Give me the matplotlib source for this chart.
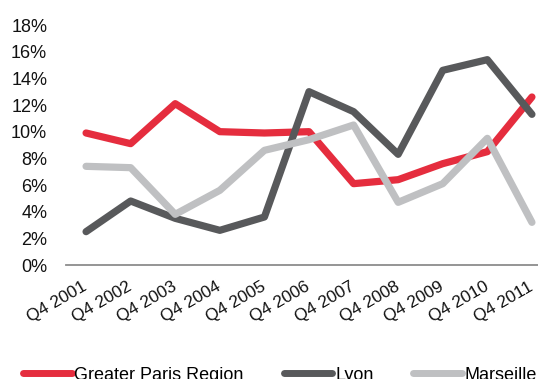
import matplotlib
matplotlib.use("Agg")
import matplotlib.pyplot as plt
from matplotlib.ticker import FuncFormatter
from matplotlib.legend_handler import HandlerLine2D

plt.rcParams['font.family'] = ['Liberation Sans', 'DejaVu Sans']

quarters = ["Q4 2001", "Q4 2002", "Q4 2003", "Q4 2004", "Q4 2005", "Q4 2006",
            "Q4 2007", "Q4 2008", "Q4 2009", "Q4 2010", "Q4 2011"]
paris = [9.9, 9.1, 12.1, 10.0, 9.9, 10.0, 6.1, 6.4, 7.6, 8.5, 12.6]
lyon = [2.5, 4.8, 3.5, 2.6, 3.6, 13.0, 11.5, 8.3, 14.6, 15.4, 11.3]
marseille = [7.4, 7.3, 3.8, 5.6, 8.6, 9.4, 10.5, 4.7, 6.1, 9.5, 3.2]

series_names = ["Greater Paris Region", "Lyon", "Marseille"]
colors = ["#E52D3E", "#58595B", "#BFC0C2"]

W, H = 538, 379
fig = plt.figure(figsize=(W / 100, H / 100), dpi=100)
# plot area runs past the right edge of the figure
ax = fig.add_axes([66 / W, (H - 265) / H, (552 - 66) / W, (265 - 25) / H])

x = list(range(len(quarters)))
for vals, name, c in zip([paris, lyon, marseille], series_names, colors):
    ax.plot(x, vals, color=c, lw=5.2, label=name,
            solid_capstyle='round', solid_joinstyle='round', clip_on=False)

ax.set_xlim(-0.45, len(quarters) - 0.55)
ax.set_ylim(0, 18)
ax.set_yticks(range(0, 19, 2))
ax.yaxis.set_major_formatter(FuncFormatter(lambda v, p: f"{int(v)}%"))
ax.set_xticks(x)
ax.set_xticklabels(quarters, rotation=30, ha='right', va='center',
                   rotation_mode='anchor', fontsize=12.4)

for s in ['top', 'right', 'left']:
    ax.spines[s].set_visible(False)
ax.spines['bottom'].set_color('#8C8C8C')
ax.spines['bottom'].set_linewidth(1.3)
ax.tick_params(axis='both', length=0, colors='#111111')
ax.tick_params(axis='y', pad=13.5, labelsize=13)
ax.tick_params(axis='x', pad=15)

leg = fig.legend(loc='center left', bbox_to_anchor=(23 / W, (H - 375) / H),
                 ncol=3, frameon=False, fontsize=13, handlelength=2.7,
                 handletextpad=0.15, columnspacing=2.2, borderpad=0,
                 borderaxespad=0,
                 handler_map={plt.Line2D: HandlerLine2D(ypad=-0.5)})
for line in leg.get_lines():
    line.set_linewidth(5.0)
    line.set_solid_capstyle('round')

fig.savefig("out.png", dpi=100)
